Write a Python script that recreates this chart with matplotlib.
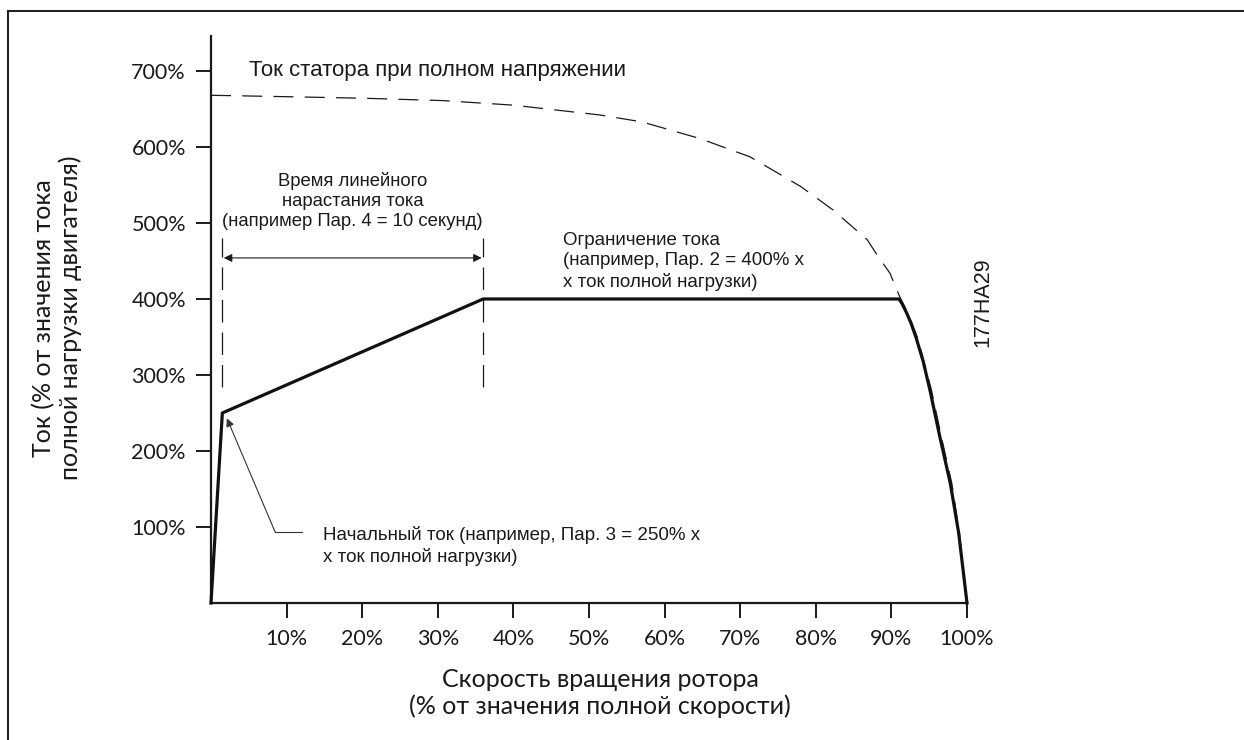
import matplotlib
matplotlib.use("Agg")
import matplotlib.pyplot as plt
from matplotlib.lines import Line2D

# ---------------- data ----------------
x_ticks = [10, 20, 30, 40, 50, 60, 70, 80, 90, 100]
x_tick_labels = ["10%", "20%", "30%", "40%", "50%", "60%", "70%", "80%", "90%", "100%"]
y_ticks = [100, 200, 300, 400, 500, 600, 700]
y_tick_labels = ["100%", "200%", "300%", "400%", "500%", "600%", "700%"]

# soft-start current (solid)
soft_speed = [0, 1.5, 36, 91.0, 91.4, 92.0, 92.6, 93.3, 94.2, 95.1, 96.4, 97.8, 98.9, 100]
soft_current = [0, 250, 400, 400, 394, 382, 368, 348, 318, 280, 219, 157, 92, 0]

# stator current at full voltage (dashed)
dol_speed = [0, 10.8, 20.6, 30.7, 40, 51.5, 57, 64.7, 71.3, 78, 82.3, 86.8, 88.1, 89.8,
             91.1, 92.2, 93.5, 95.3, 96.6, 98.0, 99.0, 100]
dol_current = [668, 666, 664, 661, 655, 642, 633, 611, 587, 548, 517, 478, 458, 434,
               403, 381, 348, 280, 219, 157, 92, 0]

ramp_start = 1.5
ramp_end = 36
ramp_marker_low = 284
ramp_marker_high = 480
ramp_arrow_level = 454

# ---------------- figure ----------------
W, H = 1244, 740
fig = plt.figure(figsize=(W / 100, H / 100), dpi=100)
fig.patch.set_facecolor("white")

def fx(px):
    return px / W

def fy(py):
    return 1 - py / H

ax = fig.add_axes([fx(211), fy(603), fx(967) - fx(211), fy(36) - fy(603)])
ax.set_xlim(0, 100)
ax.set_ylim(0, 746)
ax.spines["top"].set_visible(False)
ax.spines["right"].set_visible(False)
for s in ("left", "bottom"):
    ax.spines[s].set_linewidth(1.6)
    ax.spines[s].set_color("#1a1a1a")
ax.spines["bottom"].set_bounds(0, 100)

tick_font = dict(family=["Lato", "DejaVu Sans"], size=15.5, color="#1a1a1a")
ax.set_xticks(x_ticks)
ax.set_xticklabels(x_tick_labels, **tick_font)
ax.set_yticks(y_ticks)
ax.set_yticklabels(y_tick_labels, **tick_font)
ax.tick_params(axis="both", direction="out", length=11, width=1.4, color="#1a1a1a")
ax.tick_params(axis="x", pad=8)
ax.tick_params(axis="y", pad=7)

# curves
ax.plot(dol_speed, dol_current, color="#1a1a1a", lw=0.9, dashes=(16, 9), clip_on=False)
ax.plot(soft_speed, soft_current, color="#111111", lw=2.3, solid_joinstyle="round",
        clip_on=False, zorder=5)

# ramp markers
for xv in (ramp_start, ramp_end):
    ax.plot([xv, xv], [ramp_marker_low, ramp_marker_high], color="#1a1a1a", lw=0.9,
            dashes=(18, 8))
ax.annotate("", xy=(ramp_start + 0.2, ramp_arrow_level), xytext=(ramp_end - 0.2, ramp_arrow_level),
            arrowprops=dict(arrowstyle="<|-|>", color="#1a1a1a", lw=0.8,
                            mutation_scale=12, shrinkA=0, shrinkB=0))

ann_font = dict(family=["Liberation Sans", "DejaVu Sans"], color="#1a1a1a")

ax.text(5, 700, "Ток статора при полном напряжении", fontsize=16, ha="left", va="center",
        **ann_font)
ax.text((ramp_start + ramp_end) / 2, 529,
        "Время линейного\nнарастания тока\n(например Пар. 4 = 10 секунд)",
        fontsize=13.3, ha="center", va="center", linespacing=1.25, **ann_font)
ax.text(46.6, 411,
        "Ограничение тока\n(например, Пар. 2 = 400% х\nх ток полной нагрузки)",
        fontsize=13.5, ha="left", va="bottom", linespacing=1.25, **ann_font)

# start current annotation
ax.plot([8.5, 12.0], [93, 93], color="#333333", lw=0.8)
ax.annotate("", xy=(2.1, 243), xytext=(8.5, 93),
            arrowprops=dict(arrowstyle="-|>", color="#333333", lw=0.8,
                            mutation_scale=12, shrinkA=0, shrinkB=0))
ax.text(14.8, 101, "Начальный ток (например, Пар. 3 = 250% х\nх ток полной нагрузки)",
        fontsize=13.5, ha="left", va="top", linespacing=1.25, **ann_font)

# axis labels
lab_font = dict(family=["Lato", "DejaVu Sans"], color="#1a1a1a")
fig.text(fx(600), fy(693), "Скорость вращения ротора\n(% от значения полной скорости)",
         ha="center", va="center", fontsize=18, linespacing=1.2, **lab_font)
fig.text(fx(57), fy(318), "Ток (% от значения тока\nполной нагрузки двигателя)",
         ha="center", va="center", rotation=90, fontsize=18, linespacing=1.15, **lab_font)

# figure code
fig.text(fx(983), fy(302), "177HA29", rotation=90, ha="center", va="center",
         fontsize=15.5, family=["Liberation Sans", "DejaVu Sans"], color="#1a1a1a")

# partial frame
fig.add_artist(Line2D([fx(8), fx(8)], [0, fy(11)], color="#222222", lw=1.5))
fig.add_artist(Line2D([fx(8), 1], [fy(11), fy(11)], color="#222222", lw=1.5))

fig.savefig("out.png", dpi=100, facecolor="white")
